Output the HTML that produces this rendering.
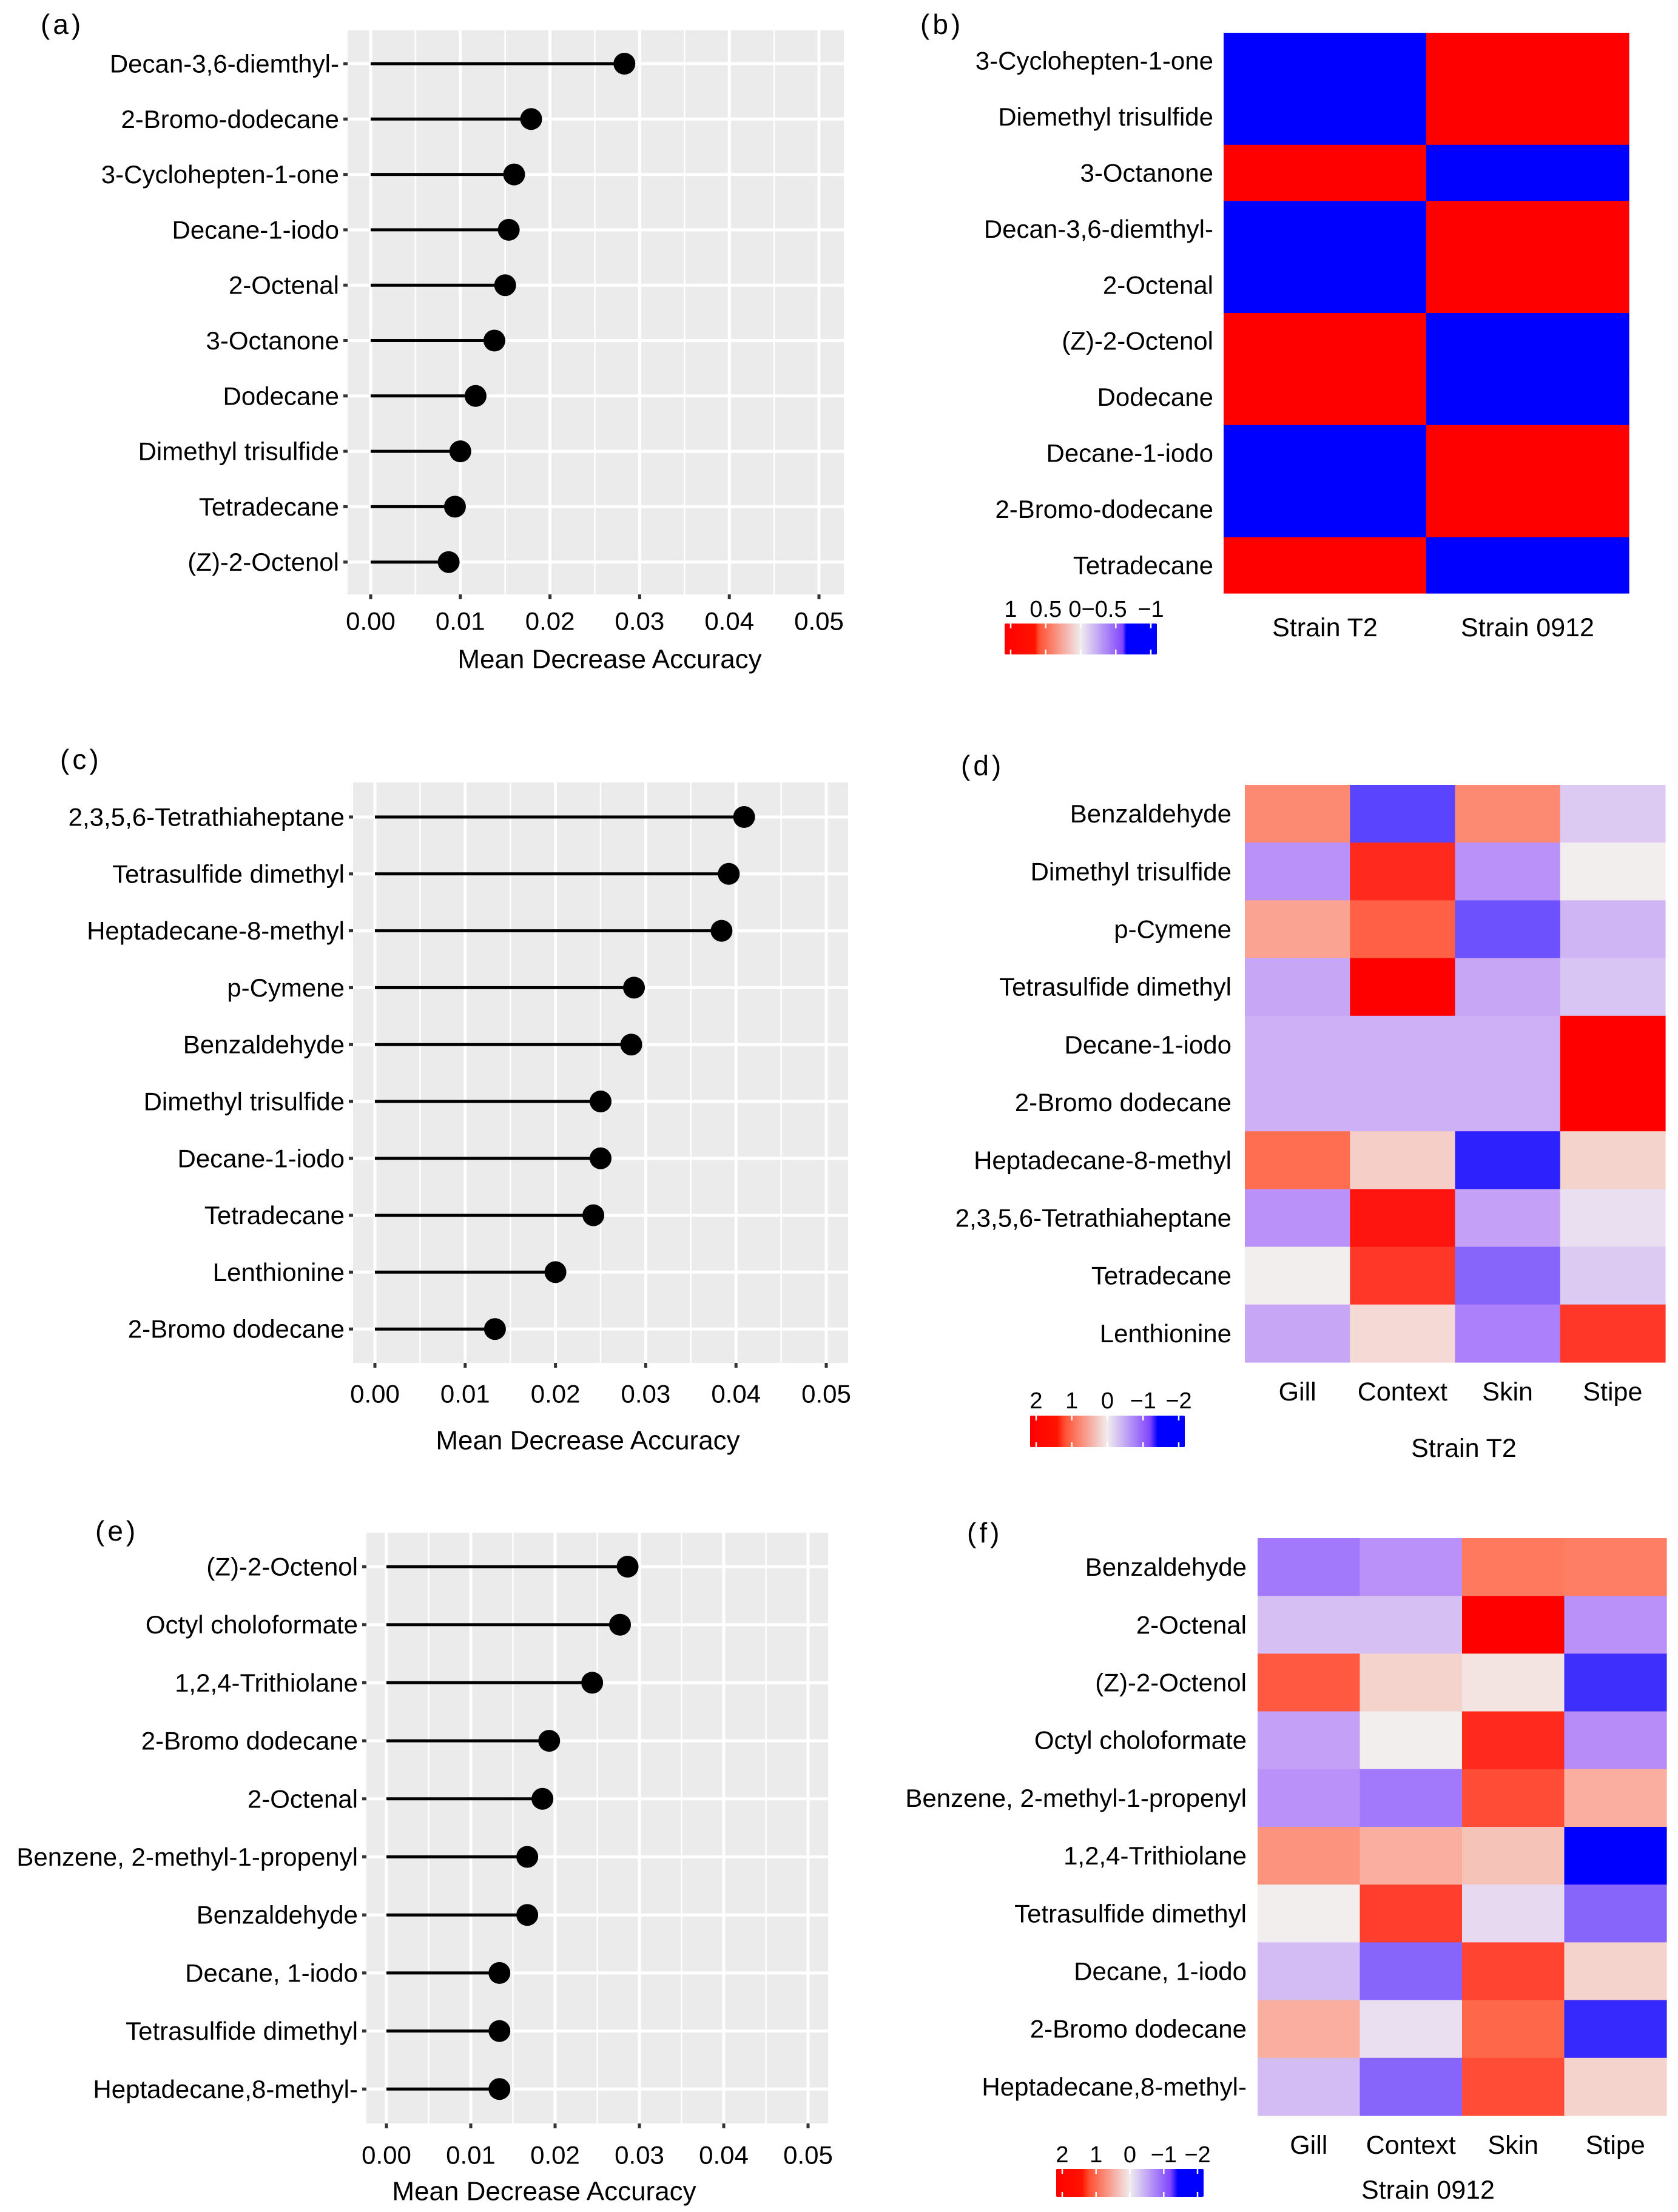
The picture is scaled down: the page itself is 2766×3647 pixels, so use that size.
<!DOCTYPE html>
<html><head><meta charset="utf-8">
<style>
html,body{margin:0;padding:0;background:#fff;}
svg{display:block;}
text{font-family:"Liberation Sans",Arial,sans-serif;fill:#000;}
</style></head>
<body>
<svg id="fig" width="2766" height="3647" viewBox="0 0 2766 3647" xmlns="http://www.w3.org/2000/svg"></svg>
<script>
// ---------- data ----------
const aLabels = ["Decan-3,6-diemthyl-","2-Bromo-dodecane","3-Cyclohepten-1-one","Decane-1-iodo","2-Octenal","3-Octanone","Dodecane","Dimethyl trisulfide","Tetradecane","(Z)-2-Octenol"];
const aValues = [0.0283,0.0179,0.0160,0.0154,0.0150,0.0138,0.0117,0.0100,0.0094,0.0087];
const cLabels = ["2,3,5,6-Tetrathiaheptane","Tetrasulfide dimethyl","Heptadecane-8-methyl","p-Cymene","Benzaldehyde","Dimethyl trisulfide","Decane-1-iodo","Tetradecane","Lenthionine","2-Bromo dodecane"];
const cValues = [0.0409,0.0392,0.0384,0.0287,0.0284,0.0250,0.0250,0.0242,0.0200,0.0133];
const eLabels = ["(Z)-2-Octenol","Octyl choloformate","1,2,4-Trithiolane","2-Bromo dodecane","2-Octenal","Benzene, 2-methyl-1-propenyl","Benzaldehyde","Decane, 1-iodo","Tetrasulfide dimethyl","Heptadecane,8-methyl-"];
const eValues = [0.0286,0.0277,0.0244,0.0193,0.0185,0.0167,0.0167,0.0134,0.0134,0.0134];
const xTicks = [0,0.01,0.02,0.03,0.04,0.05];
const xTickLabels = ["0.00","0.01","0.02","0.03","0.04","0.05"];

const bRows = ["3-Cyclohepten-1-one","Diemethyl trisulfide","3-Octanone","Decan-3,6-diemthyl-","2-Octenal","(Z)-2-Octenol","Dodecane","Decane-1-iodo","2-Bromo-dodecane","Tetradecane"];
const bCols = ["Strain T2","Strain 0912"];
const bT2 = [-1,-1,1,-1,-1,1,1,-1,-1,1];
const b0912 = [1,1,-1,1,1,-1,-1,1,1,-1];
const bLegend = [1,0.5,0,-0.5,-1];
const bLegendLabels = ["1","0.5","0\u22120.5","","\u22121"];

const dRows = ["Benzaldehyde","Dimethyl trisulfide","p-Cymene","Tetrasulfide dimethyl","Decane-1-iodo","2-Bromo dodecane","Heptadecane-8-methyl","2,3,5,6-Tetrathiaheptane","Tetradecane","Lenthionine"];
const tissues = ["Gill","Context","Skin","Stipe"];
const dGill    = [0.95,-0.9,0.7,-0.7,-0.6,-0.6,1.2,-0.9,0.0,-0.7];
const dContext = [-1.5,1.7,1.3,2.0,-0.6,-0.6,0.3,1.85,1.6,0.2];
const dSkin    = [0.95,-0.9,-1.4,-0.7,-0.6,-0.6,-1.75,-0.75,-1.25,-1.05];
const dStipe   = [-0.35,0.0,-0.55,-0.4,2.0,2.0,0.25,-0.15,-0.35,1.6];

const fRows = ["Benzaldehyde","2-Octenal","(Z)-2-Octenol","Octyl choloformate","Benzene, 2-methyl-1-propenyl","1,2,4-Trithiolane","Tetrasulfide dimethyl","Decane, 1-iodo","2-Bromo dodecane","Heptadecane,8-methyl-"];
const fGill    = [-1.1,-0.45,1.35,-0.75,-0.9,0.85,0.0,-0.5,0.6,-0.5];
const fContext = [-0.9,-0.45,0.25,0.0,-1.1,0.6,1.55,-1.25,-0.15,-1.25];
const fSkin    = [1.1,2.0,0.1,1.7,1.45,0.4,-0.2,1.5,1.25,1.45];
const fStipe   = [1.05,-0.9,-1.65,-0.95,0.6,-2.0,-1.25,0.25,-1.7,0.25];
const zLegend = [2,1,0,-1,-2];
const zLegendLabels = ["2","1","0","\u22121","\u22122"];

// ---------- helpers ----------
const NS="http://www.w3.org/2000/svg";
const svg=document.getElementById('fig');
function mk(tag,attrs,parent){const e=document.createElementNS(NS,tag);for(const k in attrs)e.setAttribute(k,attrs[k]);(parent||svg).appendChild(e);return e;}
function txt(s,x,y,size,anchor,parent,name){
  const t=mk('text',{x:x,y:y,'font-size':size,'text-anchor':anchor||'start','dominant-baseline':'central'},parent);
  t.textContent=s;
  
  
  return t;
}
function lerp(a,b,t){return Math.round(a+(b-a)*t);}
function rgb(c){return `rgb(${c[0]},${c[1]},${c[2]})`;}
function scaleColor(v,stops){
  if(v>=stops[0][0])return rgb(stops[0][1]);
  for(let i=0;i<stops.length-1;i++){
    const [v0,c0]=stops[i],[v1,c1]=stops[i+1];
    if(v<=v0&&v>=v1){const t=(v0-v)/(v0-v1);return `rgb(${lerp(c0[0],c1[0],t)},${lerp(c0[1],c1[1],t)},${lerp(c0[2],c1[2],t)})`;}
  }
  return rgb(stops[stops.length-1][1]);
}
const zStops=[[2,[255,0,0]],[1.2,[255,110,80]],[0,[242,238,238]],[-1,[180,135,250]],[-2,[0,0,255]]];
const bStops=[[1,[255,0,0]],[-1,[0,0,255]]];

// ---------- lollipop ----------
function lollipop(id,labels,values,P){
  const g=mk('g',{});
  
  
  const xs=v=>P.x0+v*P.k;
  const rowY=i=>P.y0+i*P.step;
  const bg=mk('rect',{x:P.left,y:P.top,width:P.right-P.left,height:P.bottom-P.top,fill:'#EBEBEB'},g);
  
  
  for(let i=0;i<xTicks.length-1;i++){
    const m=(xTicks[i]+xTicks[i+1])/2;
    const ln=mk('line',{x1:xs(m),x2:xs(m),y1:P.top,y2:P.bottom,stroke:'#fff','stroke-width':2.5},g);
    
    
  }
  xTicks.forEach((t,i)=>{
    const ln=mk('line',{x1:xs(t),x2:xs(t),y1:P.top,y2:P.bottom,stroke:'#fff','stroke-width':5},g);
    
    
    const tk=mk('line',{x1:xs(t),x2:xs(t),y1:P.bottom,y2:P.bottom+8,stroke:'#333','stroke-width':5},g);
    
    
    txt(xTickLabels[i],xs(t),P.tickY,42,'middle',g,'x-tick-label');
  });
  labels.forEach((l,i)=>{
    const y=rowY(i);
    const hl=mk('line',{x1:P.left,x2:P.right,y1:y,y2:y,stroke:'#fff','stroke-width':5},g);
    
    
    const tk=mk('line',{x1:P.left-7,x2:P.left,y1:y,y2:y,stroke:'#333','stroke-width':5},g);
    
    
    txt(l,P.left-14,y,42,'end',g,'y-tick-label');
  });
  values.forEach((v,i)=>{
    const y=rowY(i);
    const s=mk('line',{x1:xs(0),x2:xs(v),y1:y,y2:y,stroke:'#000','stroke-width':5},g);
    
    
    const c=mk('circle',{cx:xs(v),cy:y,r:18,fill:'#000'},g);
    
    
  });
  txt('Mean Decrease Accuracy',P.titleX,P.titleY,44,'middle',g,'x-axis-title');
}

// ---------- heatmap ----------
function heatmap(id,cols,P,stops,legendVals,legendLabels,legendMax){
  const g=mk('g',{});
  
  
  const cw=(P.right-P.left)/cols.length, rh=(P.bottom-P.top)/P.rowLabels.length;
  cols.forEach((col,j)=>{
    col.forEach((v,i)=>{
      const r=mk('rect',{x:P.left+j*cw,y:P.top+i*rh,width:cw+0.6,height:rh+0.6,fill:scaleColor(v,stops)},g);
      
      
    });
  });
  P.rowLabels.forEach((l,i)=>txt(l,P.labelX,P.top+(i+0.5)*rh,42,'end',g,'row-label'));
  P.colLabels.forEach((l,j)=>txt(l,P.left+(j+0.5)*cw,P.colY,43,'middle',g,'column-label'));
  if(P.title)txt(P.title,P.titleX,P.titleY,43,'middle',g,'heatmap-title');
  const gid=id+'grad';
  const defs=mk('defs',{},g);
  const lg=mk('linearGradient',{id:gid,x1:0,x2:1,y1:0,y2:0},defs);
  for(let k=0;k<=40;k++){
    const v=legendMax-(2*legendMax)*k/40;
    mk('stop',{offset:(k/40),'stop-color':scaleColor(v,P.legendStops||stops)},lg);
  }
  const L=P.legend;
  const lr=mk('rect',{x:L.x1,y:L.y1,width:L.x2-L.x1,height:L.y2-L.y1,fill:`url(#${gid})`,rx:2},g);
  
  
  const lx=v=>L.x1+10+(legendMax-v)/(2*legendMax)*(L.x2-L.x1-20);
  legendVals.forEach((v,i)=>{
    const t1=mk('line',{x1:lx(v),x2:lx(v),y1:L.y1,y2:L.y1+8,stroke:'#fff','stroke-width':2.5},g);
    
    
    const t2=mk('line',{x1:lx(v),x2:lx(v),y1:L.y2-8,y2:L.y2,stroke:'#fff','stroke-width':2.5},g);
    
    
    if(legendLabels[i])txt(legendLabels[i],lx(v)+(P.labelShift?P.labelShift[i]:0),L.ly,38,'middle',g,'legend-label');
  });
}

// ---------- panels ----------
lollipop('a',aLabels,aValues,{left:573,right:1391,top:50,bottom:980,x0:611,k:14780,y0:105,step:91.3,tickY:1024,titleX:1005,titleY:1087});
lollipop('c',cLabels,cValues,{left:582,right:1398,top:1290,bottom:2247,x0:618,k:14880,y0:1347,step:93.8,tickY:2298,titleX:969,titleY:2375});
lollipop('e',eLabels,eValues,{left:604,right:1365,top:2527,bottom:3501,x0:637,k:13900,y0:2583,step:95.7,tickY:3553,titleX:897,titleY:3613});

const bStopsLegend=[[1,[255,0,0]],[0.6,[255,20,0]],[0.55,[255,80,50]],[0,[240,236,238]],[-0.55,[130,70,255]],[-0.6,[0,0,255]],[-1,[0,0,255]]];
heatmap('b',[bT2,b0912],{left:2017,right:2685,top:54,bottom:978,labelX:2000,rowLabels:bRows,colLabels:bCols,colY:1035,
  legend:{x1:1656,x2:1907,y1:1028,y2:1079,ly:1005},legendStops:bStopsLegend,labelShift:[0,0,28,0,0]},bStops,bLegend,bLegendLabels,1);
const zStopsLegend=[[2,[255,0,0]],[1.3,[255,20,0]],[1.1,[255,80,50]],[0,[240,236,238]],[-1.1,[130,70,255]],[-1.3,[0,0,255]],[-2,[0,0,255]]];
heatmap('d',[dGill,dContext,dSkin,dStipe],{left:2052,right:2745,top:1294,bottom:2246,labelX:2030,rowLabels:dRows,colLabels:tissues,colY:2295,
  title:'Strain T2',titleX:2413,titleY:2388,legend:{x1:1698,x2:1953,y1:2334,y2:2386,ly:2310},legendStops:zStopsLegend},zStops,zLegend,zLegendLabels,2);
heatmap('f',[fGill,fContext,fSkin,fStipe],{left:2073,right:2747,top:2536,bottom:3488,labelX:2055,rowLabels:fRows,colLabels:tissues,colY:3537,
  title:'Strain 0912',titleX:2354,titleY:3611,legend:{x1:1741,x2:1984,y1:3576,y2:3622,ly:3553},legendStops:zStopsLegend},zStops,zLegend,zLegendLabels,2);

// panel letters
[['(a)',67,40],['(b)',1517,40],['(c)',99,1252],['(d)',1584,1262],['(e)',157,2524],['(f)',1594,2527]].forEach(p=>{
  const t=txt(p[0],p[1],p[2],46,'start',svg,'panel-letter');
  t.setAttribute('font-family','"Liberation Serif",serif');
  t.setAttribute('letter-spacing','5');
});
</script>
</body></html>
